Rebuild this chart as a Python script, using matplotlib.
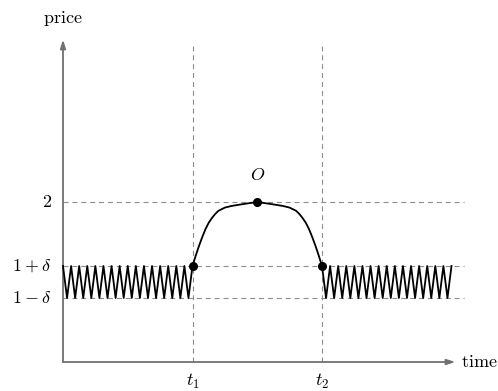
import matplotlib
matplotlib.use("Agg")
import matplotlib.pyplot as plt

plt.rcParams['mathtext.fontset'] = 'cm'

# key levels
price_high = 2.0          # level "2"
price_up = 1.2            # 1 + delta
price_down = 0.8          # 1 - delta
t1, t2 = 4.0, 8.0
peak_time = 6.0

ytick_values = [2.0, 1.2, 0.8]
ytick_labels = [r'$2$', r'$1+\delta$', r'$1-\delta$']
xtick_values = [4.0, 8.0]
xtick_labels = [r'$t_1$', r'$t_2$']

# oscillation extremes before t1
left_osc_t = [0.0, 0.125, 0.25, 0.375, 0.5, 0.625, 0.75, 0.875, 1.0, 1.125, 1.25, 1.375,
              1.5, 1.625, 1.75, 1.875, 2.0, 2.125, 2.25, 2.375, 2.5, 2.625, 2.75, 2.875,
              3.0, 3.125, 3.25, 3.375, 3.5, 3.625, 3.75, 3.875, 4.0]
left_osc_p = [1.2, 0.8, 1.2, 0.8, 1.2, 0.8, 1.2, 0.8, 1.2, 0.8, 1.2, 0.8,
              1.2, 0.8, 1.2, 0.8, 1.2, 0.8, 1.2, 0.8, 1.2, 0.8, 1.2, 0.8,
              1.2, 0.8, 1.2, 0.8, 1.2, 0.8, 1.2, 0.8, 1.2]
# oscillation extremes after t2
right_osc_t = [8.0, 8.125, 8.25, 8.375, 8.5, 8.625, 8.75, 8.875, 9.0, 9.125, 9.25, 9.375,
               9.5, 9.625, 9.75, 9.875, 10.0, 10.125, 10.25, 10.375, 10.5, 10.625, 10.75, 10.875,
               11.0, 11.125, 11.25, 11.375, 11.5, 11.625, 11.75, 11.875, 12.0]
right_osc_p = [1.2, 0.8, 1.2, 0.8, 1.2, 0.8, 1.2, 0.8, 1.2, 0.8, 1.2, 0.8,
               1.2, 0.8, 1.2, 0.8, 1.2, 0.8, 1.2, 0.8, 1.2, 0.8, 1.2, 0.8,
               1.2, 0.8, 1.2, 0.8, 1.2, 0.8, 1.2, 0.8, 1.2]

# bump between t1 and t2
bump_t = [4.0, 4.1, 4.2, 4.3, 4.4, 4.5, 4.6, 4.7, 4.8, 5.0, 5.2, 5.5, 6.0,
          6.5, 6.8, 7.0, 7.2, 7.3, 7.4, 7.5, 7.6, 7.7, 7.8, 7.9, 8.0]
bump_p = [1.2, 1.33, 1.45, 1.56, 1.66, 1.74, 1.80, 1.85, 1.89, 1.93, 1.95, 1.97, 2.0,
          1.97, 1.95, 1.93, 1.89, 1.85, 1.80, 1.74, 1.66, 1.56, 1.45, 1.33, 1.2]

dot_t = [4.0, 6.0, 8.0]
dot_p = [1.2, 2.0, 1.2]

fig = plt.figure(figsize=(4.98, 3.91), dpi=100)
ax = fig.add_axes([0, 0, 1, 1])
pxx = 32.375
pxy = 80.0
ax.set_xlim(-63 / pxx, (498 - 63) / pxx)
ax.set_ylim(-(391 - 362) / pxy, 362 / pxy)
ax.axis('off')

dash_kw = dict(color='#8c8c8c', lw=0.8, dashes=(4.5, 3.5))
x_end_dash = 12.4
for y in ytick_values:
    ax.plot([0, x_end_dash], [y, y], **dash_kw, zorder=1)
for x in xtick_values:
    ax.plot([x, x], [0, 3.95], **dash_kw, zorder=1)

# axes arrows
axis_color = '#707070'
ax.annotate('', xy=(12.12, 0), xytext=(0, 0),
            arrowprops=dict(arrowstyle='-|>,head_length=0.5,head_width=0.16',
                            color=axis_color, lw=1.3, shrinkA=0, shrinkB=0))
ax.annotate('', xy=(0, 4.03), xytext=(0, 0),
            arrowprops=dict(arrowstyle='-|>,head_length=0.5,head_width=0.16',
                            color=axis_color, lw=1.3, shrinkA=0, shrinkB=0))

ax.plot(left_osc_t, left_osc_p, color='black', lw=1.3, solid_joinstyle='round', zorder=3)
ax.plot(right_osc_t, right_osc_p, color='black', lw=1.3, solid_joinstyle='round', zorder=3)
ax.plot(bump_t, bump_p, color='black', lw=1.3, zorder=3)
ax.plot(dot_t, dot_p, 'o', color='black', ms=5.5, zorder=4)

fs = 13
ax.text(peak_time, 2.34, r'$O$', fontsize=fs, ha='center', va='center')
for y, lab in zip(ytick_values, ytick_labels):
    ax.text(-0.35, y, lab, fontsize=fs, ha='right', va='center')
for x, lab in zip(xtick_values, xtick_labels):
    ax.text(x, -0.24, lab, fontsize=fs, ha='center', va='center')
ax.text(0, 4.3, r'$\mathrm{price}$', fontsize=fs, ha='center', va='center')
ax.text(12.28, 0.0, r'$\mathrm{time}$', fontsize=fs, ha='left', va='center')

fig.savefig('out.png', dpi=100)
